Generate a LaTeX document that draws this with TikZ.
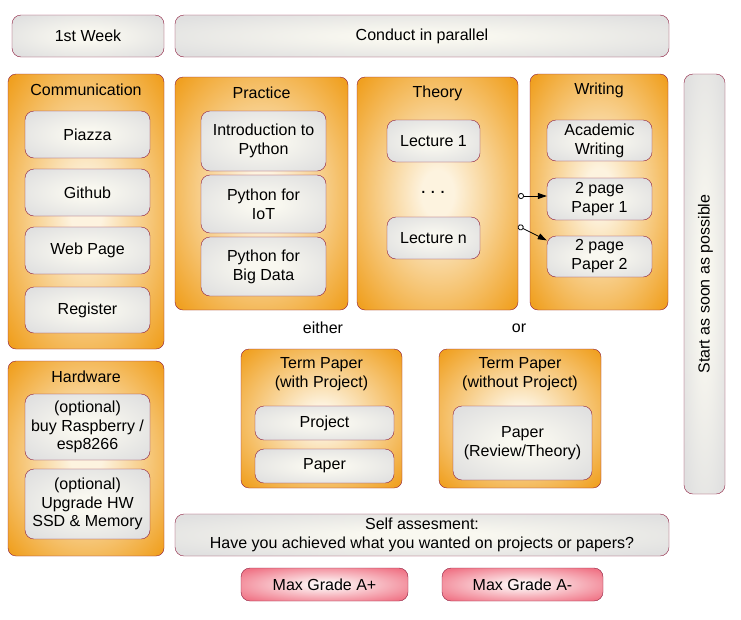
\documentclass[tikz,border=0pt]{standalone}
\usepackage{fontspec}
\setmainfont{Liberation Sans}
\usepackage{xcolor}
\definecolor{Deep Orange}{HTML}{F0A020}
\definecolor{Cream}{HTML}{FDF3DF}
\definecolor{Silver}{HTML}{E0E0E0}
\definecolor{Ivory}{HTML}{F9F8F0}
\definecolor{Rose}{HTML}{F07486}
\definecolor{Blush}{HTML}{FDF2F2}
\definecolor{Maroon}{HTML}{8C1B3C}
\colorlet{cEdge}{Maroon}
\usepackage{tikz}
\usetikzlibrary{arrows.meta, positioning}
\pgfdeclareradialshading{orangeglow}{\pgfpoint{0bp}{0bp}}{color(0bp)=(Cream); color(5bp)=(Cream); color(34bp)=(Deep Orange); color(50bp)=(Deep Orange)}
\pgfdeclareradialshading{grayglow}{\pgfpoint{0bp}{0bp}}{color(0bp)=(Ivory); color(6bp)=(Ivory); color(32bp)=(Silver); color(50bp)=(Silver)}
\pgfdeclareradialshading{pinkglow}{\pgfpoint{0bp}{0bp}}{color(0bp)=(Blush); color(4bp)=(Blush); color(32bp)=(Rose); color(50bp)=(Rose)}
\tikzset{
	line width = .8pt,
	font = \fontsize{16}{19}\selectfont,
	panel/.style={
		draw=cEdge,
		shade,
		shading=orangeglow,
		rounded corners=8pt,
		inner sep=0pt
	},
	item/.style={
		draw=cEdge,
		shade,
		shading=grayglow,
		rounded corners=9pt,
		align=center,
		inner sep=0pt
	},
	grade/.style={
		draw=cEdge,
		shade,
		shading=pinkglow,
		rounded corners=9pt,
		inner sep=0pt
	},
	caption/.style={
		align=center,
		inner sep=0pt
	},
	link/.style={
		{Circle[open,length=6pt,width=6pt]}-{Triangle[length=9pt,width=6pt]},
		line width=.8pt
	}
}

\begin{document}
\begin{tikzpicture}[x=1pt, y=-1pt]
		\useasboundingbox (0,0) rectangle (741,619);

		\node[item, minimum width=152pt, minimum height=42pt] (week) at (88,36) {1st Week};
		\node[item, minimum width=494pt, minimum height=42pt] (parallel) at (422,36) {Conduct in parallel};

		\node[panel, minimum width=156pt, minimum height=275pt] (comm) at (86,211.5) {};
		\node[panel, minimum width=156pt, minimum height=195pt] (hardware) at (86,458.5) {};
		\node[panel, minimum width=173pt, minimum height=233pt] (practice) at (261.5,193.5) {};
		\node[panel, minimum width=161pt, minimum height=233pt] (theory) at (437.5,193.5) {};
		\node[panel, minimum width=138pt, minimum height=236pt] (writing) at (599,192) {};
		\node[panel, minimum width=161pt, minimum height=139pt] (withproj) at (321.5,418.5) {};
		\node[panel, minimum width=162pt, minimum height=139pt] (noproj) at (520,418.5) {};

		\node[caption] (commtitle) at (86,90) {Communication};
		\node[caption] (hwtitle) at (86,377) {Hardware};
		\node[caption] (practicetitle) at (261.5,93) {Practice};
		\node[caption] (theorytitle) at (437.5,93) {Theory};
		\node[caption] (writingtitle) at (599,90) {Writing};
		\node[caption] (withtitle) at (321.5,374.5) {Term Paper\\(with Project)};
		\node[caption] (notitle) at (520,374.5) {Term Paper\\(without Project)};

		\node[item, minimum width=125pt, minimum height=47pt] (piazza) at (87.5,134.5) {Piazza};
		\node[item, minimum width=125pt, minimum height=47pt] (github) at (87.5,192.5) {Github};
		\node[item, minimum width=125pt, minimum height=47pt] (webpage) at (87.5,250.5) {Web Page};
		\node[item, minimum width=125pt, minimum height=46pt] (register) at (87.5,310) {Register};
		\node[item, minimum width=125pt, minimum height=66pt, font=\fontsize{16}{18.5}\selectfont] (raspberry) at (87.5,427) {(optional)\\buy Raspberry /\\esp8266};
		\node[item, minimum width=125pt, minimum height=70pt, font=\fontsize{16}{18.5}\selectfont] (upgrade) at (87.5,504) {(optional)\\Upgrade HW\\SSD \& Memory};

		\node[item, minimum width=125pt, minimum height=60pt] (intro) at (263.5,141) {Introduction to\\Python};
		\node[item, minimum width=125pt, minimum height=58pt] (iot) at (263.5,204) {Python for\\IoT};
		\node[item, minimum width=125pt, minimum height=59pt] (bigdata) at (263.5,266.5) {Python for\\Big Data};

		\node[item, minimum width=93pt, minimum height=42pt] (lec1) at (433.5,141) {Lecture 1};
		\node[caption, font=\fontsize{20}{22}\selectfont] (dots) at (433,192) {.\hspace{4pt}.\hspace{4pt}.};
		\node[item, minimum width=93pt, minimum height=42pt] (lecn) at (433.5,238) {Lecture n};

		\node[item, minimum width=105pt, minimum height=41pt] (academic) at (599.5,140.5) {Academic\\Writing};
		\node[item, minimum width=105pt, minimum height=42pt] (paper1) at (599.5,199) {2 page\\Paper 1};
		\node[item, minimum width=105pt, minimum height=41pt] (paper2) at (599.5,256.5) {2 page\\Paper 2};

		\node[item, minimum width=41pt, minimum height=420pt] (asap) at (704.5,284) {};
		\node[caption, rotate=90] (asaptext) at (705.5,284) {Start as soon as possible};

		\node[caption] (either) at (323,328) {either};
		\node[caption] (or) at (519,328) {or};

		\node[item, minimum width=139pt, minimum height=34pt] (project) at (324.5,423) {Project};
		\node[item, minimum width=139pt, minimum height=34pt] (paper) at (324.5,466) {Paper};
		\node[item, minimum width=139pt, minimum height=74pt] (review) at (522.5,443) {Paper\\(Review/Theory)};

		\node[item, minimum width=494pt, minimum height=42pt] (selfcheck) at (422,535) {Self assesment:\\Have you achieved what you wanted on projects or papers?};
		\node[grade, minimum width=167pt, minimum height=33pt] (gradeAp) at (324.5,584.5) {Max Grade A+};
		\node[grade, minimum width=161pt, minimum height=33pt] (gradeAm) at (522.5,584.5) {Max Grade A-};

		\coordinate (o1) at (518,196);
		\coordinate (o2) at (518,226);
		\draw[link] (o1) -- (paper1.west |- o1);
		\draw[link] (o2) -- (paper2.163);
	\end{tikzpicture}
\end{document}
